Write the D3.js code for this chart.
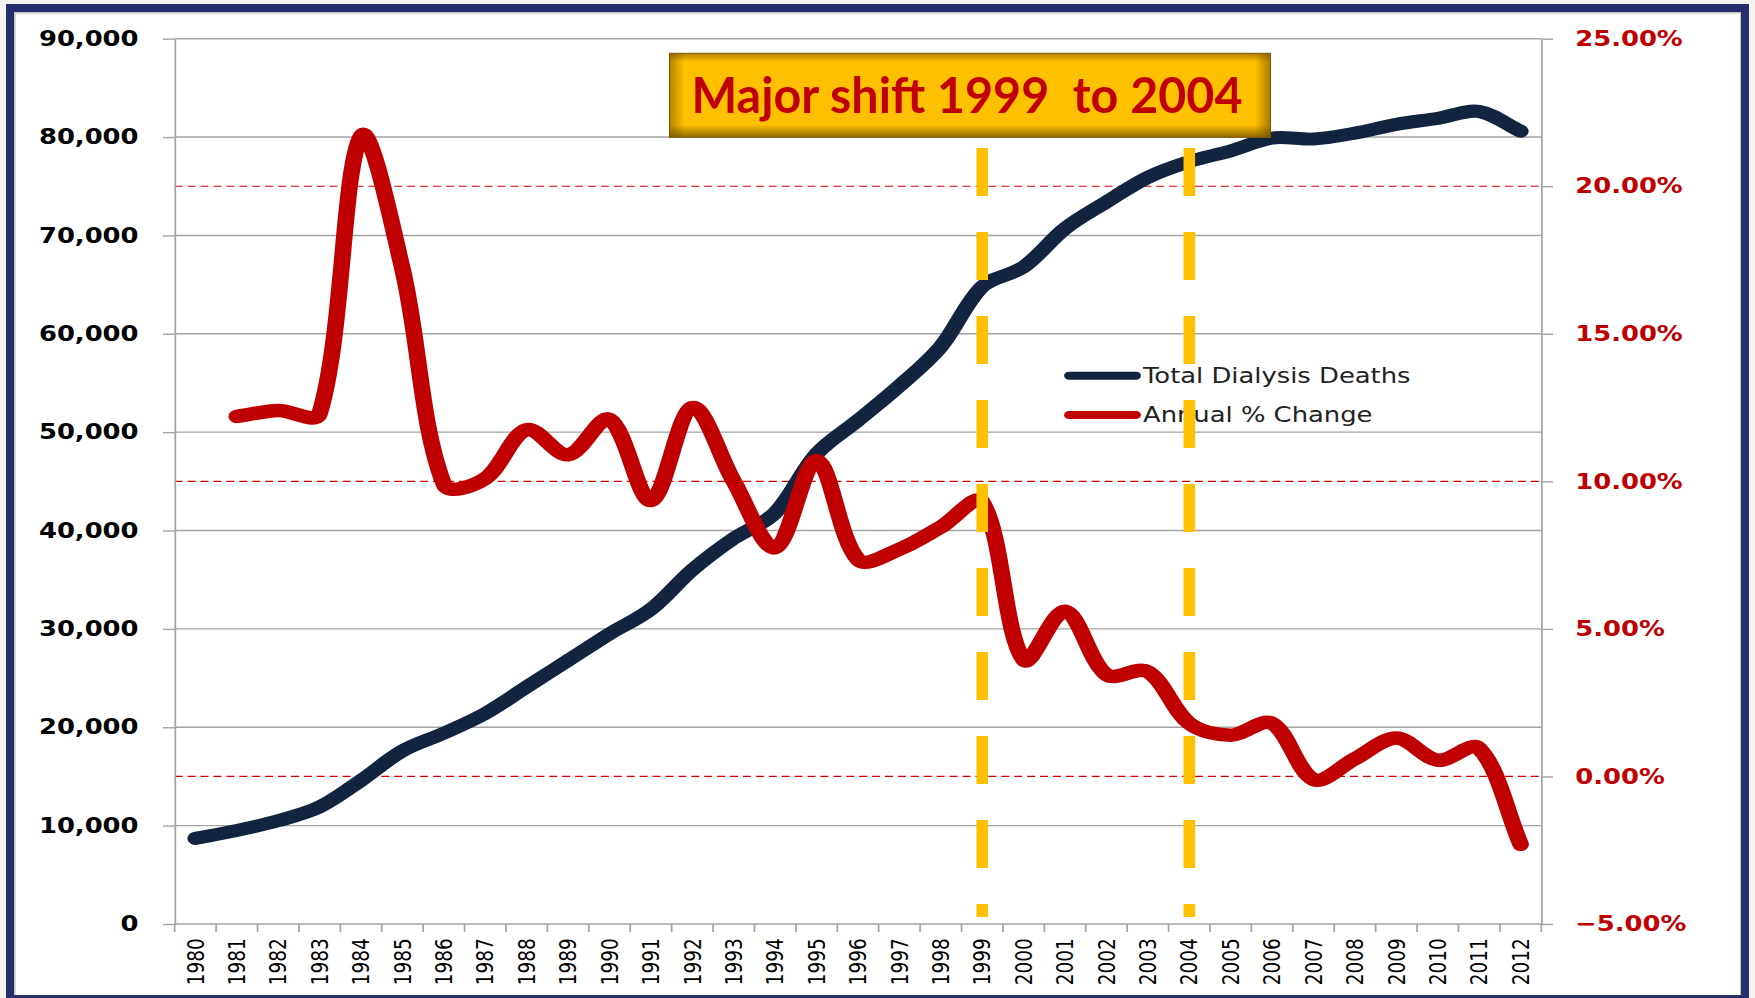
<!DOCTYPE html>
<html>
<head>
<meta charset="utf-8">
<script src="https://cdn.jsdelivr.net/npm/d3@7"></script>
<style>
  html, body { margin: 0; padding: 0; background: #f4f2ee; }
  svg { display: block; }
</style>
</head>
<body>
<script>
// categories and series
const years = [1980, 1981, 1982, 1983, 1984, 1985, 1986, 1987, 1988, 1989, 1990,
               1991, 1992, 1993, 1994, 1995, 1996, 1997, 1998, 1999, 2000, 2001,
               2002, 2003, 2004, 2005, 2006, 2007, 2008, 2009, 2010, 2011, 2012];
const deaths = [8700, 9500, 10500, 11900, 14600, 17600, 19400, 21400, 24100, 26800, 29500,
                32000, 36000, 39200, 41800, 47800, 51200, 54700, 58700, 64800, 66800, 70700,
                73400, 75900, 77500, 78600, 79900, 79800, 80400, 81300, 81900, 82600, 80600];
const pctChange = [null, 12.2, 12.4, 12.3, 21.7, 17.2, 9.9, 10.1, 11.75, 10.9, 12.1,
                   9.35, 12.5, 10.0, 7.75, 10.7, 7.35, 7.7, 8.45, 9.3, 3.95, 5.6,
                   3.45, 3.55, 1.8, 1.4, 1.8, -0.1, 0.6, 1.3, 0.55, 0.95, -2.3];
const leftTicks = [0, 10000, 20000, 30000, 40000, 50000, 60000, 70000, 80000, 90000];
const rightTicks = [-5, 0, 5, 10, 15, 20, 25];
const seriesNames = ["Total Dialysis Deaths", "Annual % Change"];
const shiftYears = [1999, 2004];
const shiftSpan = [700, 78900];   // in deaths units, left axis
const title = "Major shift 1999  to 2004";

const W = 1755, H = 998;
const SX = 1.23;   // the chart picture is stretched sideways
const plotL = 174.7 / SX, plotR = 1541.3 / SX, plotT = 38.7, plotB = 924;
const navy = "#13243f", red = "#c00000", gold = "#ffc000", grid = "#a3a3a3";

const svg = d3.select("body").append("svg")
    .attr("width", W).attr("height", H);

// frame
svg.append("rect").attr("x", 6).attr("y", 4).attr("width", 1743).attr("height", 1000)
    .attr("fill", "#fff");
svg.append("rect").attr("x", 14.8).attr("y", 12.8).attr("width", 1726).attr("height", 990)
    .attr("fill", "none").attr("stroke", "#c6c6c6").attr("stroke-width", 1.6);
svg.append("rect").attr("x", 10).attr("y", 8).attr("width", 1735).attr("height", 991)
    .attr("fill", "none").attr("stroke", "#262f6c").attr("stroke-width", 8);

const g = svg.append("g").attr("transform", `scale(${SX},1)`);

const x = d3.scaleBand().domain(years).range([plotL, plotR]);
const cx = d => x(d) + x.bandwidth() / 2;
const yL = d3.scaleLinear().domain([0, 90000]).range([plotB, plotT]);
const yR = d3.scaleLinear().domain([-5, 25]).range([plotB, plotT]);

// secondary gridlines (red dashed) where they don't sit on a primary one
const leftYs = leftTicks.map(yL);
g.append("g").selectAll("line")
  .data(rightTicks.filter(t => !leftYs.some(v => Math.abs(v - yR(t)) < 2)))
  .join("line")
    .attr("x1", plotL).attr("x2", plotR)
    .attr("y1", d => yR(d)).attr("y2", d => yR(d))
    .attr("stroke", "#d40000").attr("stroke-width", 1.2)
    .attr("stroke-dasharray", "6.5,4");

// primary gridlines
g.append("g").selectAll("line")
  .data(leftTicks.slice(1))
  .join("line")
    .attr("x1", plotL).attr("x2", plotR)
    .attr("y1", d => yL(d)).attr("y2", d => yL(d))
    .attr("stroke", grid).attr("stroke-width", 1.4);

// axes
const axL = g.append("g").attr("transform", `translate(${plotL},0)`)
  .call(d3.axisLeft(yL).tickValues(leftTicks).tickSize(9.5).tickSizeOuter(0)
        .tickPadding(19.9).tickFormat(d3.format(",")));
const axR = g.append("g").attr("transform", `translate(${plotR},0)`)
  .call(d3.axisRight(yR).tickValues(rightTicks).tickSize(9.5).tickSizeOuter(0)
        .tickPadding(18.1).tickFormat(d => d3.format(".2f")(d) + "%"));
[axL, axR].forEach(a => {
  a.select(".domain").attr("stroke", grid).attr("stroke-width", 1.4);
  a.selectAll(".tick line").attr("stroke", grid).attr("stroke-width", 1.4);
  a.selectAll("text").attr("font-family", "DejaVu Sans").attr("font-weight", "bold")
    .attr("font-size", 21);
});
axL.selectAll("text").attr("fill", "#000");
axR.selectAll("text").attr("fill", red);

// category axis
g.append("line").attr("x1", plotL).attr("x2", plotR).attr("y1", plotB).attr("y2", plotB)
    .attr("stroke", grid).attr("stroke-width", 1.4);
g.append("g").selectAll("line")
  .data(years.map(d => x(d)).concat([plotR]))
  .join("line")
    .attr("x1", d => d).attr("x2", d => d).attr("y1", plotB).attr("y2", plotB + 8)
    .attr("stroke", grid).attr("stroke-width", 1.4);
g.append("g").selectAll("text")
  .data(years)
  .join("text")
    .attr("transform", d => `translate(${cx(d)},938.3) rotate(-90)`)
    .attr("text-anchor", "end").attr("dy", "0.36em")
    .attr("font-family", "DejaVu Sans").attr("font-size", 18.5).attr("fill", "#000")
    .text(d => d);

// Excel-like smoothing: tangent through neighbours, handle lengths follow chord lengths
function smoothPath(pts) {
  const p = d3.path();
  const n = pts.length;
  const dist = (a, b) => Math.hypot((b[0] - a[0]) * SX, b[1] - a[1]);
  const hIn = [], hOut = [];
  pts.forEach((pt, i) => {
    const a = pts[Math.max(i - 1, 0)], b = pts[Math.min(i + 1, n - 1)];
    const dp = dist(a, pt), dn = dist(pt, b);
    const tx = (b[0] - a[0]) / (dp + dn), ty = (b[1] - a[1]) / (dp + dn);
    hIn.push([pt[0] - tx * dp / 3, pt[1] - ty * dp / 3]);
    hOut.push([pt[0] + tx * dn / 3, pt[1] + ty * dn / 3]);
  });
  p.moveTo(pts[0][0], pts[0][1]);
  for (let i = 1; i < n; i++) {
    p.bezierCurveTo(hOut[i - 1][0], hOut[i - 1][1], hIn[i][0], hIn[i][1], pts[i][0], pts[i][1]);
  }
  return p.toString();
}

// series
g.append("path")
    .attr("d", smoothPath(deaths.map((v, i) => [cx(years[i]), yL(v)])))
    .attr("fill", "none").attr("stroke", navy).attr("stroke-width", 13)
    .attr("stroke-linecap", "round").attr("stroke-linejoin", "round");
g.append("path")
    .attr("d", smoothPath(pctChange.map((v, i) => [years[i], v])
        .filter(d => d[1] !== null).map(d => [cx(d[0]), yR(d[1])])))
    .attr("fill", "none").attr("stroke", red).attr("stroke-width", 13.5)
    .attr("stroke-linecap", "round").attr("stroke-linejoin", "round");

// legend
const legend = g.append("g").selectAll("g")
  .data(seriesNames)
  .join("g")
    .attr("transform", (d, i) => `translate(0,${i ? 415 : 375.7})`);
legend.append("line")
    .attr("x1", 1069 / SX).attr("x2", 1136 / SX).attr("y1", 0).attr("y2", 0)
    .attr("stroke", (d, i) => i ? red : navy).attr("stroke-width", 8)
    .attr("stroke-linecap", "round");
legend.append("text")
    .attr("x", 1143 / SX).attr("y", (d, i) => i ? 6.7 : 7)
    .attr("font-family", "DejaVu Sans").attr("font-size", 21).attr("fill", "#222")
    .text(d => d);

// 1999-2004 markers
g.append("g").selectAll("line")
  .data(shiftYears)
  .join("line")
    .attr("x1", d => cx(d)).attr("x2", d => cx(d))
    .attr("y1", yL(shiftSpan[1])).attr("y2", yL(shiftSpan[0]))
    .attr("stroke", gold).attr("stroke-width", 9.4)
    .attr("stroke-dasharray", "48,36");

// title box
const defs = svg.append("defs");
const gv = defs.append("linearGradient").attr("id", "shadeV")
    .attr("x1", 0).attr("y1", 0).attr("x2", 0).attr("y2", 1);
[[0, 0.55], [0.1, 0], [0.85, 0], [1, 0.75]].forEach(([o, a]) =>
  gv.append("stop").attr("offset", o).attr("stop-color", "#6b4a00").attr("stop-opacity", a));
const gh = defs.append("linearGradient").attr("id", "shadeH")
    .attr("x1", 0).attr("y1", 0).attr("x2", 1).attr("y2", 0);
[[0, 0.5], [0.025, 0], [0.975, 0], [1, 0.6]].forEach(([o, a]) =>
  gh.append("stop").attr("offset", o).attr("stop-color", "#6b4a00").attr("stop-opacity", a));

const box = svg.append("g").attr("transform", "translate(669.5,53.3)");
box.append("rect").attr("width", 601).attr("height", 84).attr("fill", gold);
box.append("rect").attr("width", 601).attr("height", 84).attr("fill", "url(#shadeV)");
box.append("rect").attr("width", 601).attr("height", 84).attr("fill", "url(#shadeH)");
box.append("rect").attr("width", 601).attr("height", 84).attr("fill", "none")
    .attr("stroke", "#7a5a00").attr("stroke-width", 1);
box.append("text")
    .attr("x", 22).attr("y", 59.4)
    .attr("font-family", "Lato").attr("font-weight", "bold").attr("font-size", 50)
    .attr("fill", red).style("white-space", "pre")
    .attr("textLength", 551).attr("lengthAdjust", "spacingAndGlyphs")
    .text(title);
</script>
</body>
</html>
